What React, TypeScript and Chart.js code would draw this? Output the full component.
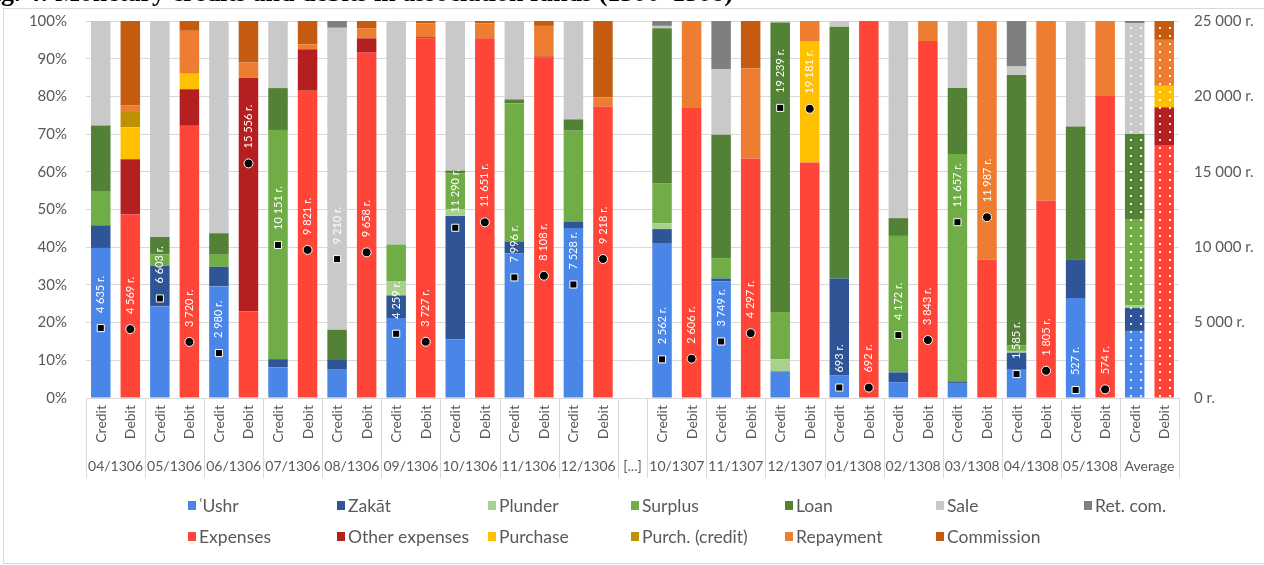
import React, { useEffect, useRef } from 'react';
import { Chart, registerables } from 'chart.js';

Chart.register(...registerables);

// ---------- DATA ----------
const groups = ['04/1306', '05/1306', '06/1306', '07/1306', '08/1306', '09/1306', '10/1306', '11/1306', '12/1306',
  '10/1307', '11/1307', '12/1307', '01/1308', '02/1308', '03/1308', '04/1308', '05/1308', 'Average'];
const gapLabel = '[...]';
const gapBefore = 9; // index of group that follows the gap
const sideLabels = ['Credit', 'Debit'];

// Credit composition (% of monthly credit)
const ushr = [39.8, 24.3, 29.6, 8.1, 7.5, 21.2, 15.6, 38.4, 45.1, 41.1, 30.9, 7.1, 6.0, 4.2, 4.0, 7.5, 26.5, 17.8];
const zakat = [6.0, 10.8, 5.2, 2.2, 2.8, 6.0, 32.7, 3.0, 1.6, 3.7, 0.8, 0, 25.7, 2.6, 0.4, 4.5, 10.3, 6.1];
const plunder = [0, 0, 0, 0, 0, 3.7, 1.8, 0, 0, 1.6, 0, 3.2, 0, 0, 0, 0.5, 0, 0.7];
const surplus = [9.1, 3.0, 3.2, 60.8, 0, 9.8, 9.5, 36.8, 24.2, 10.6, 5.4, 12.5, 0, 36.2, 60.3, 1.5, 0, 22.7];
const loan = [17.4, 4.6, 5.7, 11.1, 7.8, 0, 0.7, 1.0, 3.0, 41.1, 32.7, 76.8, 66.8, 4.7, 17.5, 71.7, 35.2, 22.7];
const sale = [27.7, 57.3, 56.3, 17.8, 80.1, 59.3, 39.7, 20.8, 26.1, 0.6, 17.4, 0.4, 1.5, 52.3, 17.8, 2.2, 28.0, 29.4];
const retCom = [0, 0, 0, 0, 1.8, 0, 0, 0, 0, 1.3, 12.8, 0, 0, 0, 0, 12.1, 0, 0.6];

// Debit composition (% of monthly debit)
const expenses = [48.7, 72.2, 23.0, 81.5, 91.6, 95.4, 95.4, 90.3, 77.3, 77.1, 63.5, 62.5, 100, 94.7, 36.7, 52.4, 80.1, 67.1];
const otherExpenses = [14.6, 9.7, 61.9, 11.0, 3.8, 0.3, 0, 0.3, 0, 0, 0, 0, 0, 0, 0, 0, 0, 10.0];
const purchase = [8.5, 4.1, 0, 0, 0, 0, 0, 0, 0, 0, 0, 32.2, 0, 0, 0, 0, 0, 5.7];
const purchCredit = [4.3, 0, 0, 0, 0, 0, 0, 0, 0, 0, 0, 0, 0, 0, 0, 0, 0, 0];
const repayment = [1.5, 11.4, 4.1, 1.3, 2.7, 3.7, 4.0, 8.1, 2.4, 22.9, 23.9, 5.3, 0, 5.3, 63.3, 47.6, 19.9, 12.2];
const commission = [22.4, 2.6, 11.0, 6.2, 1.9, 0.6, 0.6, 1.3, 20.3, 0, 12.6, 0, 0, 0, 0, 0, 0, 5.0];

// Totals (right axis, r.)
const creditTotals = [4635, 6603, 2980, 10151, 9210, 4259, 11290, 7996, 7528, 2562, 3749, 19239, 693, 4172, 11657, 1585, 527, null];
const debitTotals = [4569, 3720, 15556, 9821, 9658, 3727, 11651, 8108, 9218, 2606, 4297, 19181, 692, 3843, 11987, 1805, 574, null];

const pctTicks = { min: 0, max: 100, step: 10 };
const moneyTicks = { min: 0, max: 25000, step: 5000 };
const titleText = 'Fig. 4: Monetary credits and debits in association funds (1306–1308)';

// ---------- SERIES ----------
const creditSeries = [
  { label: 'ʿUshr', data: ushr, color: '#4a86e8' },
  { label: 'Zakāt', data: zakat, color: '#2f5597' },
  { label: 'Plunder', data: plunder, color: '#a9d18e' },
  { label: 'Surplus', data: surplus, color: '#70ad47' },
  { label: 'Loan', data: loan, color: '#538135' },
  { label: 'Sale', data: sale, color: '#c9c9c9' },
  { label: 'Ret. com.', data: retCom, color: '#7f7f7f' },
];
const debitSeries = [
  { label: 'Expenses', data: expenses, color: '#ff4538' },
  { label: 'Other expenses', data: otherExpenses, color: '#b41f1f' },
  { label: 'Purchase', data: purchase, color: '#ffc000' },
  { label: 'Purch. (credit)', data: purchCredit, color: '#bf9000' },
  { label: 'Repayment', data: repayment, color: '#ed7d31' },
  { label: 'Commission', data: commission, color: '#c55a11' },
];

type Slot = { gap: boolean; g: number; side: number };
const slots: Slot[] = [];
groups.forEach((_, gi) => {
  if (gi === gapBefore) slots.push({ gap: true, g: -1, side: -1 });
  slots.push({ gap: false, g: gi, side: 0 });
  slots.push({ gap: false, g: gi, side: 1 });
});
const avgIndex = groups.length - 1;

const fmt = (n: number) => String(n).replace(/\B(?=(\d{3})+(?!\d))/g, ' ');

function makePattern(color: string): CanvasPattern | string {
  const c = document.createElement('canvas');
  c.width = 10; c.height = 8;
  const x = c.getContext('2d');
  if (!x) return color;
  x.fillStyle = color; x.fillRect(0, 0, 10, 8);
  x.fillStyle = 'rgba(255,255,255,0.9)';
  x.fillRect(4, 3, 2, 2);
  const p = x.createPattern(c, 'repeat');
  return p || color;
}

const FONT = 'Lato, "Open Sans", sans-serif';
const GREY = '#595959';

const legendCols = [188, 337, 488, 631, 785, 936, 1084];
const legendRows = [505, 536];

export default function App() {
  const ref = useRef<HTMLCanvasElement>(null);
  useEffect(() => {
    const canvas = ref.current;
    if (!canvas) return;

    const barSets: any[] = [];
    const addSeries = (list: any[], side: number) => {
      list.forEach((s) => {
        const pat = makePattern(s.color);
        barSets.push({
          type: 'bar',
          label: s.label,
          data: slots.map((sl) => (!sl.gap && sl.side === side && s.data[sl.g] ? s.data[sl.g] : null)),
          backgroundColor: slots.map((sl) => (!sl.gap && sl.g === avgIndex ? pat : s.color)),
          borderWidth: 0,
          yAxisID: 'y',
          order: 2,
          barPercentage: 0.66,
          categoryPercentage: 1,
        });
      });
    };
    addSeries(creditSeries, 0);
    addSeries(debitSeries, 1);

    const creditMarker = {
      type: 'line', label: 'credit total',
      data: slots.map((sl) => (!sl.gap && sl.side === 0 ? creditTotals[sl.g] : null)),
      showLine: false, pointStyle: 'rect', pointRadius: 5, pointBackgroundColor: '#000',
      pointBorderColor: '#fff', pointBorderWidth: 1, yAxisID: 'y2', order: 0,
    };
    const debitMarker = {
      type: 'line', label: 'debit total',
      data: slots.map((sl) => (!sl.gap && sl.side === 1 ? debitTotals[sl.g] : null)),
      showLine: false, pointStyle: 'circle', pointRadius: 4.5, pointBackgroundColor: '#000',
      pointBorderColor: '#fff', pointBorderWidth: 1, yAxisID: 'y2', order: 0,
    };
    const markerStart = barSets.length;

    const drawPlugin = {
      id: 'custom',
      beforeDraw(chart: any) {
        const ctx = chart.ctx;
        ctx.save();
        ctx.fillStyle = '#fff';
        ctx.fillRect(0, 0, chart.width, chart.height);
        ctx.fillStyle = '#000';
        ctx.font = 'bold 26px "Liberation Serif", serif';
        ctx.textBaseline = 'alphabetic';
        ctx.textAlign = 'left';
        ctx.fillText(titleText, -22, 1);
        ctx.strokeStyle = '#d9d9d9';
        ctx.lineWidth = 1;
        ctx.strokeRect(3.5, 8.5, chart.width + 10, 555);
        ctx.restore();
      },
      beforeDatasetsDraw(chart: any) {
        chart.data.datasets.forEach((ds: any, di: number) => {
          if (ds.type !== 'bar') return;
          const meta = chart.getDatasetMeta(di);
          meta.data.forEach((el: any, i: number) => {
            const bg = ds.backgroundColor[i];
            if (bg && typeof bg !== 'string' && bg.setTransform && el && ds.data[i] != null) {
              const left = Math.round(el.x - el.width / 2) + 1;
              bg.setTransform(new DOMMatrix([1, 0, 0, 1, left, 0]));
            }
          });
        });
      },
      afterDatasetsDraw(chart: any) {
        const ctx = chart.ctx;
        ctx.save();
        ctx.font = `11px ${FONT}`;
        ctx.fillStyle = '#fff';
        ctx.textAlign = 'left';
        ctx.textBaseline = 'middle';
        [markerStart, markerStart + 1].forEach((di) => {
          const meta = chart.getDatasetMeta(di);
          const data = chart.data.datasets[di].data;
          meta.data.forEach((pt: any, i: number) => {
            const v = data[i];
            if (v == null) return;
            ctx.save();
            ctx.translate(pt.x, pt.y - 15);
            ctx.rotate(-Math.PI / 2);
            ctx.fillText(fmt(v) + ' r.', 0, 0);
            ctx.restore();
          });
        });
        ctx.restore();
      },
      afterDraw(chart: any) {
        const ctx = chart.ctx;
        const xs = chart.scales.x;
        const area = chart.chartArea;
        const slotW = (area.right - area.left) / slots.length;
        ctx.save();
        // x-axis labels
        ctx.fillStyle = GREY;
        ctx.font = `14px ${FONT}`;
        slots.forEach((sl, i) => {
          if (sl.gap) return;
          const x = xs.getPixelForValue(i);
          ctx.save();
          ctx.translate(x + 0.5, 405);
          ctx.rotate(-Math.PI / 2);
          ctx.textAlign = 'right';
          ctx.textBaseline = 'middle';
          ctx.fillText(sideLabels[sl.side], 0, 0);
          ctx.restore();
        });
        ctx.font = `14px ${FONT}`;
        ctx.textAlign = 'center';
        ctx.textBaseline = 'middle';
        const bounds: number[] = [0];
        let i = 0;
        const groupCenters: { label: string; x: number }[] = [];
        while (i < slots.length) {
          const sl = slots[i];
          if (sl.gap) {
            groupCenters.push({ label: gapLabel, x: xs.getPixelForValue(i) });
            i += 1;
          } else {
            groupCenters.push({ label: groups[sl.g], x: (xs.getPixelForValue(i) + xs.getPixelForValue(i + 1)) / 2 });
            i += 2;
          }
          bounds.push(i);
        }
        groupCenters.forEach((g) => ctx.fillText(g.label, g.x, 466));
        ctx.strokeStyle = '#d9d9d9';
        ctx.lineWidth = 1;
        bounds.forEach((b) => {
          const x = Math.round(area.left + b * slotW) + 0.5;
          ctx.beginPath();
          ctx.moveTo(x, area.bottom);
          ctx.lineTo(x, 478);
          ctx.stroke();
        });
        // legend
        ctx.font = `17.5px ${FONT}`;
        ctx.textAlign = 'left';
        ctx.textBaseline = 'middle';
        [creditSeries, debitSeries].forEach((list, r) => {
          list.forEach((s, c) => {
            const x = legendCols[c];
            const y = legendRows[r];
            ctx.fillStyle = s.color;
            ctx.fillRect(x, y - 4, 8, 9);
            ctx.fillStyle = GREY;
            ctx.fillText(s.label, x + 11, y + 1);
          });
        });
        ctx.restore();
      },
    };

    const chart = new Chart(canvas, {
      type: 'bar',
      data: {
        labels: slots.map((sl) => (sl.gap ? gapLabel : groups[sl.g] + ' ' + sideLabels[sl.side])),
        datasets: [...barSets, creditMarker, debitMarker] as any,
      },
      options: {
        responsive: false,
        animation: false,
        events: [],
        devicePixelRatio: 1,
        layout: { padding: { top: 21, left: 0, right: 0, bottom: 0 } },
        plugins: { legend: { display: false }, tooltip: { enabled: false }, title: { display: false } },
        scales: {
          x: {
            type: 'category',
            stacked: true,
            offset: true,
            grid: { display: false },
            border: { display: false },
            ticks: { display: false },
            afterFit: (s: any) => { s.height = 167; s.paddingLeft = 0; s.paddingRight = 0; },
          },
          y: {
            stacked: true,
            min: pctTicks.min,
            max: pctTicks.max,
            ticks: {
              stepSize: pctTicks.step,
              callback: (v: any) => v + '%',
              color: GREY,
              font: { family: FONT, size: 15 },
              padding: 19,
            },
            grid: { color: '#d9d9d9', drawTicks: false },
            border: { display: false },
            afterFit: (s: any) => { s.width = 86; s.paddingTop = 0; s.paddingBottom = 0; },
          },
          y2: {
            position: 'right',
            min: moneyTicks.min,
            max: moneyTicks.max,
            ticks: {
              stepSize: moneyTicks.step,
              callback: (v: any) => fmt(Number(v)) + ' r.',
              color: GREY,
              font: { family: FONT, size: 15 },
              padding: 15,
            },
            grid: { display: false, drawTicks: false },
            border: { display: false },
            afterFit: (s: any) => { s.width = 85; s.paddingTop = 0; s.paddingBottom = 0; },
          },
        },
      } as any,
      plugins: [drawPlugin],
    });
    return () => chart.destroy();
  }, []);

  return (
    <div style={{ position: 'fixed', left: 0, top: 0, width: 1264, height: 565, background: '#fff' }}>
      <canvas ref={ref} width={1264} height={565} style={{ display: 'block', width: 1264, height: 565 }} />
    </div>
  );
}
